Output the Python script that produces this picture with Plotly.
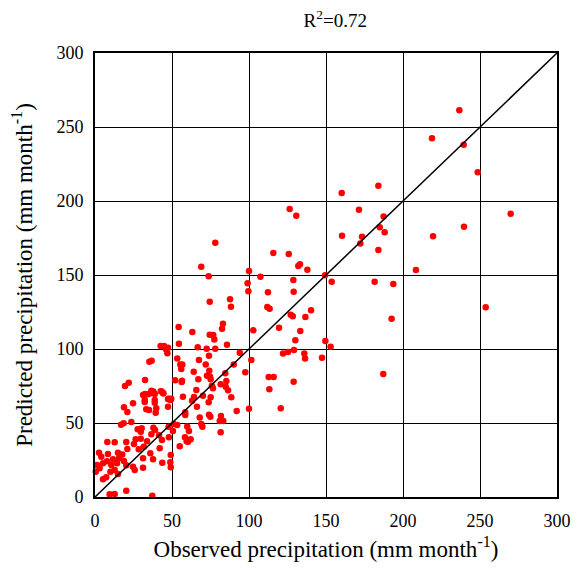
import plotly.graph_objects as go

observed = [
    236.6, 218.8, 239.4, 248.5, 160.2, 184.0, 171.4, 187.4, 184.9, 188.1,
    160.4, 173.4, 172.3, 184.0, 219.5, 239.6, 269.9, 208.4, 149.4, 153.7,
    181.6, 193.7, 253.7, 192.6, 149.6, 153.0, 147.4, 187.2,
    115.8, 125.8, 132.0, 133.1, 137.9, 100.0, 107.4, 128.8, 99.1, 99.6,
    112.3, 129.0, 111.9, 113.4, 127.1, 128.4, 136.6, 140.3, 119.5, 102.8,
    133.3, 130.1, 129.2, 122.1, 125.3, 135.9, 136.4, 101.5, 97.6, 112.8,
    116.0, 129.0, 113.2, 100.0, 120.6,
    126.4, 130.7, 78.1, 69.0, 73.8, 74.5, 87.7, 88.3, 83.1, 82.5,
    74.5, 76.8, 77.5, 85.7, 72.5, 78.1, 74.0, 94.0,
    63.2, 54.3, 54.5, 66.7, 47.4, 53.4, 55.4, 56.7, 56.0, 67.5,
    71.9, 90.1, 74.2, 72.7, 74.7, 64.1, 84.6, 52.1, 56.5, 56.3,
    67.1, 75.1, 75.9, 76.6, 85.3, 84.9, 81.6, 65.8, 86.4, 70.1,
    75.1, 88.5, 57.1, 64.3, 49.2, 73.8,
    47.4, 63.0, 66.2, 58.6, 58.6, 68.0, 74.0, 74.9, 81.8, 81.0,
    83.3, 92.0, 69.0, 69.7, 59.9, 51.1, 53.4, 47.8, 50.6, 61.0,
    81.6, 48.0, 58.4, 59.5, 62.1, 60.4, 55.0, 49.2, 49.2,
    18.8, 21.0, 24.7, 32.3, 33.3, 35.1, 38.8, 39.8, 39.4, 16.9,
    18.6, 23.6, 37.9, 39.0, 29.7, 26.4, 29.7, 25.3, 28.4, 31.6,
    33.8, 36.6, 41.6, 43.5, 42.0, 35.9, 31.2, 37.7, 43.7, 8.0,
    12.8, 20.3, 21.0, 2.6, 4.1, 8.4, 14.9, 15.6, 17.7, 11.7,
    7.8, 5.2, 1.3, 3.0, 0.5, 10.6, 14.3, 18.8, 20.3, 24.7,
    12.8, 10.0, 5.2, 7.3, 14.9, 25.8, 31.2, 20.3, 9.5, 12.8,
    37.2, 48.9,
    42.6, 44.8, 46.1, 47.0, 35.3, 36.8, 32.5, 19.5, 21.9, 37.9,
    36.1, 43.3, 44.4, 32.5, 47.9, 49.5, 27.7, 30.3,
    31.2, 34.4, 36.6, 38.8, 42.7, 44.2, 32.3, 38.8, 47.4, 48.9,
]

predicted = [
    261.3, 242.4, 238.0, 219.4, 205.4, 210.3, 194.1, 189.6, 182.2, 178.9,
    176.6, 175.9, 171.2, 166.9, 176.1, 182.6, 191.4, 153.4, 149.8, 145.5,
    145.5, 143.9, 128.2, 120.5, 105.4, 101.6, 94.1, 83.1,
    164.9, 164.2, 156.0, 157.2, 153.6, 152.7, 148.9, 146.6, 144.4, 139.0,
    138.3, 138.7, 128.4, 127.2, 123.2, 122.1, 121.6, 126.1, 114.4, 112.6,
    112.2, 105.9, 99.3, 96.9, 98.0, 96.9, 93.5, 92.6, 84.3, 81.1,
    81.1, 77.9, 72.8, 59.7, 59.9,
    194.6, 190.1, 171.8, 155.6, 149.1, 132.0, 133.6, 128.6, 117.1, 113.7,
    109.7, 109.5, 106.5, 102.9, 100.2, 100.2, 95.5, 97.5,
    111.5, 114.9, 103.6, 101.1, 100.9, 93.5, 89.6, 89.6, 86.5, 92.6,
    89.6, 89.6, 85.3, 82.0, 81.3, 84.7, 83.6, 78.9, 78.6, 77.7,
    79.5, 79.5, 75.2, 73.4, 78.4, 74.5, 76.1, 72.3, 72.1, 68.4,
    67.4, 67.4, 67.8, 67.6, 66.0, 64.0,
    61.0, 65.0, 61.0, 57.2, 55.4, 53.8, 55.6, 54.3, 54.7, 51.4,
    51.4, 58.1, 49.3, 47.5, 47.7, 49.3, 48.6, 47.5, 44.6, 44.6,
    43.7, 40.3, 40.3, 37.6, 39.0, 37.4, 34.3, 28.4, 20.1,
    60.6, 57.4, 63.3, 64.2, 59.3, 58.8, 63.7, 59.9, 57.0, 48.9,
    49.8, 50.7, 46.8, 45.3, 44.1, 39.0, 39.4, 35.8, 32.2, 34.0,
    37.6, 42.4, 41.7, 38.5, 32.9, 29.5, 26.1, 25.5, 23.2, 37.2,
    37.0, 37.2, 32.4, 29.9, 27.2, 29.1, 29.9, 26.1, 28.8, 25.5,
    24.1, 22.8, 21.6, 19.4, 17.1, 21.6, 22.8, 24.3, 21.4, 20.5,
    18.2, 17.1, 12.0, 13.3, 15.5, 18.2, 19.8, 4.3, 1.8, 2.0,
    0.9, 23.4,
    102.0, 102.0, 99.8, 97.1, 91.4, 92.1, 79.1, 75.0, 77.2, 71.2,
    70.1, 71.2, 70.1, 69.6, 66.4, 66.4, 45.7, 46.4,
    68.9, 69.4, 71.8, 69.6, 71.4, 70.1, 65.5, 65.5, 66.2, 65.5,
]

line_x = [0, 300]
line_y = [0, 300]

tick_vals = [0, 50, 100, 150, 200, 250, 300]
tick_text = ["0", "50", "100", "150", "200", "250", "300"]

FONT = "Liberation Serif"

fig = go.Figure()
fig.add_trace(go.Scatter(
    x=observed, y=predicted, mode="markers",
    marker=dict(color="#ff0000", size=6.5, line=dict(width=0)),
    showlegend=False, cliponaxis=False,
))
fig.add_trace(go.Scatter(
    x=line_x, y=line_y, mode="lines",
    line=dict(color="black", width=1.5),
    showlegend=False,
))

axis_common = dict(
    range=[0, 300], tickvals=tick_vals, ticktext=tick_text,
    showgrid=True, gridcolor="black", gridwidth=1.3,
    zeroline=False, showline=True, linecolor="black", linewidth=2,
    mirror=True, ticks="", automargin=False,
    tickfont=dict(family=FONT, size=18, color="black"),
)

# page body has an 8px margin, so the figure is sized to fit inside it
fig.update_layout(
    width=568, height=554,
    margin=dict(l=87, r=19, t=45, b=65),
    paper_bgcolor="white", plot_bgcolor="white",
    font=dict(family=FONT, color="black"),
    title=dict(text="R<sup>2</sup>=0.72", x=0.52, xref="paper", xanchor="center",
               y=0.978, yref="container", yanchor="middle", automargin=False,
               font=dict(family=FONT, size=19, color="black")),
    xaxis=dict(**axis_common,
               title=dict(text="Observed precipitation (mm month<sup>-1</sup>)",
                          font=dict(family=FONT, size=23, color="black"), standoff=15),
               ticklabelstandoff=6),
    yaxis=dict(**axis_common,
               title=dict(text="Predicted precipitation (mm month<sup>-1</sup>)",
                          font=dict(family=FONT, size=23, color="black"), standoff=24),
               ticklabelstandoff=6),
)

fig.write_html("out.html")
